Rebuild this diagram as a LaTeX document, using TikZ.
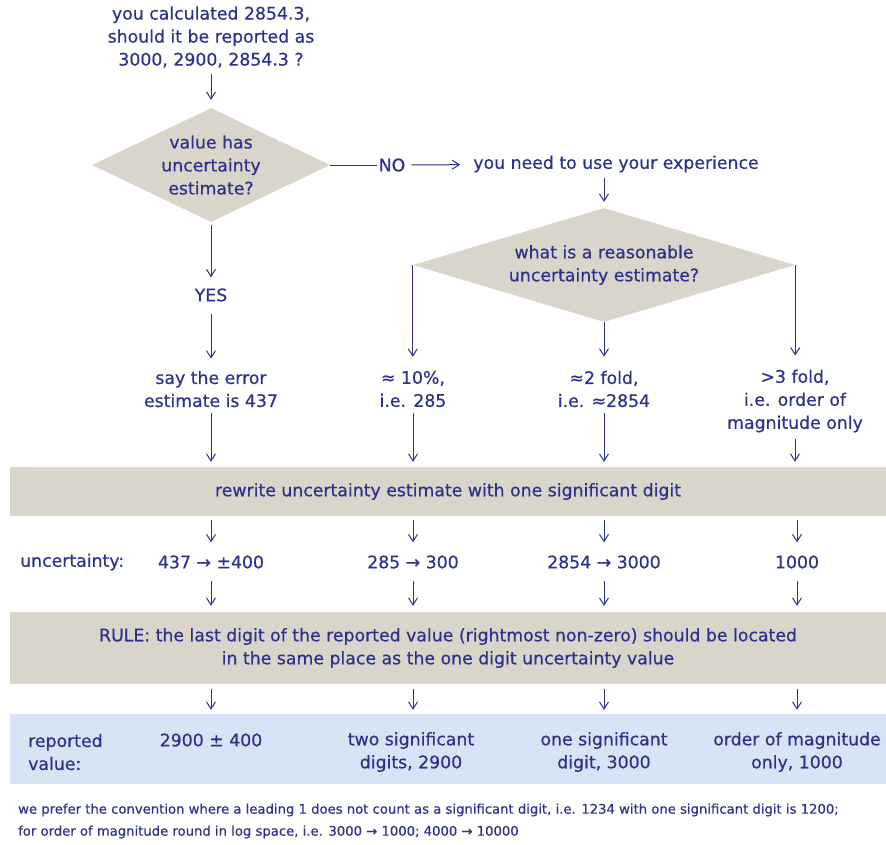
\documentclass[tikz,border=0pt]{standalone}
\usepackage{fontspec}
\setmainfont{DejaVu Sans}[UprightFeatures={FakeBold=0.5}]
\usetikzlibrary{shapes.geometric, arrows.meta, positioning, calc}
\definecolor{ink}{RGB}{46,49,140}
\definecolor{sand}{RGB}{218,213,202}
\definecolor{sky}{RGB}{214,228,245}

\begin{document}
\begin{tikzpicture}[
    x=1pt, y=-1pt,
    txt/.style={text=ink, align=center, font=\fontsize{17.3}{23}\selectfont, inner sep=2pt},
    note/.style={text=ink, align=left, font=\fontsize{13.2}{22}\selectfont, inner sep=0pt},
    decision/.style={diamond, fill=sand, inner sep=0pt},
    band/.style={rectangle, fill=#1, minimum width=876pt, inner sep=0pt, txt},
    link/.style={draw=ink, line width=1pt},
    arrow/.style={link, -{Straight Barb[length=7pt, width=9pt]}, shorten <=4pt, shorten >=5pt}
]
\useasboundingbox (0,0) rectangle (886,844);

% Nodes
\node[txt] (question) at (211,37) {you calculated 2854.3,\\should it be reported as\\3000, 2900, 2854.3 ?};
\node[decision, minimum width=238pt, minimum height=114pt,
      label={[txt]center:value has\\uncertainty\\estimate?}] (hasunc) at (211,165) {};
\node[txt] (no) at (392,165) {NO};
\node[txt] (experience) at (616,164) {you need to use your experience};
\node[decision, minimum width=382pt, minimum height=114pt,
      label={[txt]center:what is a reasonable\\uncertainty estimate?}] (reason) at (604,265) {};
\node[txt] (yes) at (211,295) {YES};

\node[txt] (say) at (211,389) {say the error\\estimate is 437};
\node[txt] (tenpct) at (413,389) {≈ 10\%,\\i.e. 285};
\node[txt] (twofold) at (604,389) {≈2 fold,\\i.e. ≈2854};
\node[txt] (threefold) at (795,401) {>3 fold,\\i.e. order of\\magnitude only};

\node[band=sand, minimum height=49pt] (rewrite) at (448,491.5) {rewrite uncertainty estimate with one significant digit};

\node[txt, anchor=west] (unclabel) at (18,562) {uncertainty:};
\node[txt] (unc1) at (211,562) {437 → ±400};
\node[txt] (unc2) at (413,562) {285 → 300};
\node[txt] (unc3) at (604,562) {2854 → 3000};
\node[txt] (unc4) at (797,562) {1000};

\node[band=sand, minimum height=72pt] (rule) at (448,648) {RULE: the last digit of the reported value (rightmost non-zero) should be located\\in the same place as the one digit uncertainty value};

\node[band=sky, minimum height=70pt] (reported) at (448,749) {};
\node[txt, anchor=west, align=left] (replabel) at (26,752) {reported\\value:};
\node[txt] (rep1) at (211,740) {2900 ± 400};
\node[txt] (rep2) at (411,752) {two significant\\digits, 2900};
\node[txt] (rep3) at (604,752) {one significant\\digit, 3000};
\node[txt] (rep4) at (797,752) {order of magnitude\\only, 1000};

\node[note, anchor=west] (footnote) at (18,821) {we prefer the convention where a leading 1 does not count as a significant digit, i.e. 1234 with one significant digit is 1200;\\for order of magnitude round in log space, i.e. 3000 → 1000; 4000 → 10000};

% Arrows
\draw[arrow, shorten >=8pt] (question) -- (hasunc);
\draw[link] (hasunc) -- (no);
\draw[arrow, shorten >=11pt] (no) -- (experience);
\draw[arrow, shorten <=3pt, shorten >=6pt] (reason.north |- experience.south) -- (reason.north);
\draw[arrow, shorten <=3pt, shorten >=9pt] (hasunc) -- (yes);
\draw[arrow, shorten <=10pt, shorten >=10pt] (yes) -- (say);
\draw[arrow, shorten <=0pt, shorten >=12pt] (reason.west) -- (reason.west |- tenpct.north);
\draw[arrow, shorten <=0pt, shorten >=12pt] (reason.south) -- (twofold.north);
\draw[arrow, shorten <=0pt, shorten >=12pt] (reason.east) -- (reason.east |- threefold.north);

\foreach \src in {say, tenpct, twofold, threefold}
  \draw[arrow] (\src.south) -- (\src.south |- rewrite.north);
\foreach \val in {unc1, unc2, unc3, unc4} {
  \draw[arrow, shorten >=11pt] (\val.north |- rewrite.south) -- (\val.north);
  \draw[arrow, shorten <=10pt, shorten >=6pt] (\val.south) -- (\val.south |- rule.north);
  \draw[arrow, shorten <=5pt, shorten >=4pt] (\val.south |- rule.south) -- (\val.south |- reported.north);
}

\end{tikzpicture}
\end{document}
